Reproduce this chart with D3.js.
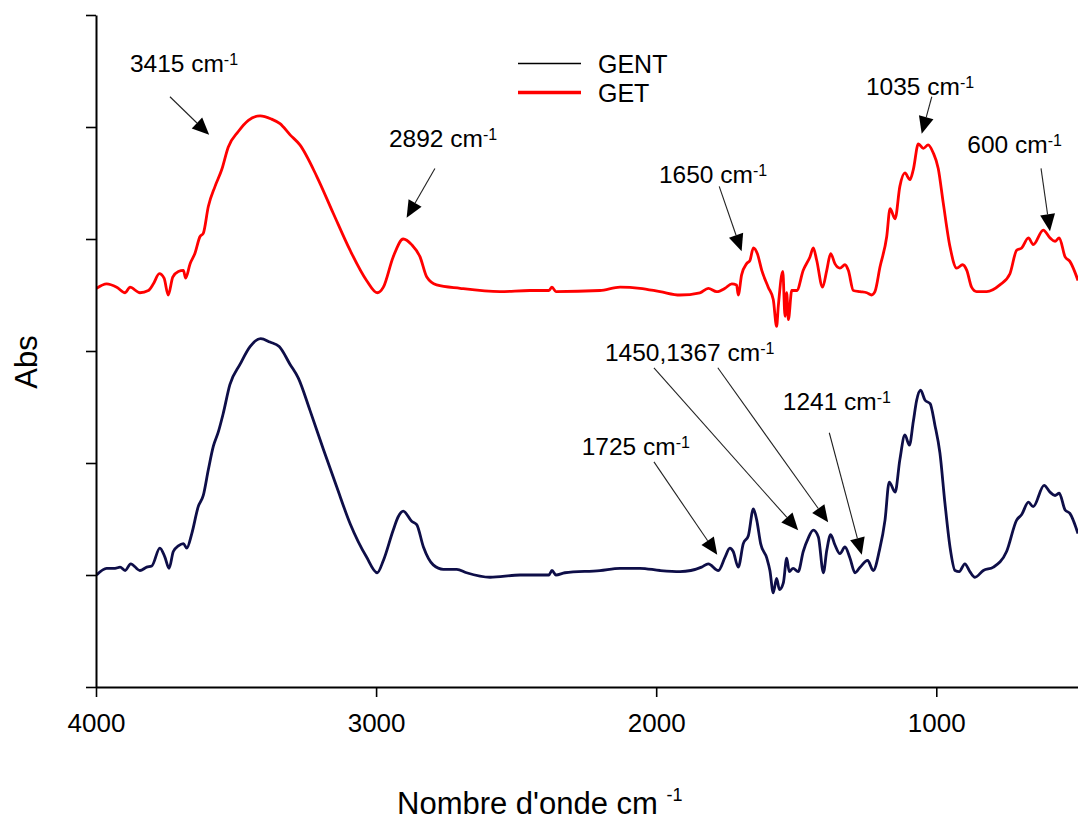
<!DOCTYPE html>
<html><head><meta charset="utf-8">
<script src="https://cdn.jsdelivr.net/npm/d3@7"></script>
<style>
body{margin:0;background:#fff}
svg{display:block}
text{font-family:"Liberation Sans",Arial,Helvetica,sans-serif;fill:#000}
</style>
</head><body>
<svg id="chart" width="1078" height="821"></svg>
<script>
// ---- data (wavenumber cm-1, absorbance in arbitrary units) ----
const getWavenumber = [3998,3962,3926,3896,3879,3843,3813,3795,3774,3757,3742,3726,3706,3688,3680,3664,3647,3629,3617,3599,3575,3551,3528,3492,3456,3414,3373,3343,3307,3272,3212,3153,3093,3034,2996,2974,2939,2903,2873,2843,2819,2784,2700,2558,2451,2383,2372,2358,2201,2129,2058,1986,1915,1844,1814,1784,1754,1730,1713,1707,1695,1677,1665,1653,1639,1623,1600,1582,1570,1564,1548,1540,1534,1528,1516,1498,1475,1451,1439,1427,1406,1391,1377,1362,1344,1326,1314,1296,1272,1248,1231,1219,1201,1177,1165,1147,1130,1112,1094,1082,1064,1046,1029,1011,993,975,951,927,906,891,874,856,820,773,737,713,695,671,654,618,594,576,561,540,523,494];
const getAbs = [3.56,3.60,3.57,3.52,3.57,3.52,3.54,3.60,3.69,3.65,3.50,3.66,3.71,3.72,3.65,3.78,3.87,4.02,4.05,4.29,4.47,4.62,4.82,4.96,5.06,5.10,5.07,5.03,4.93,4.84,4.56,4.23,3.90,3.63,3.52,3.57,3.84,4.00,3.95,3.84,3.66,3.59,3.56,3.53,3.54,3.54,3.57,3.53,3.54,3.57,3.56,3.53,3.50,3.52,3.56,3.53,3.56,3.60,3.59,3.50,3.68,3.78,3.81,3.92,3.87,3.72,3.57,3.46,3.22,3.40,3.71,3.31,3.52,3.28,3.54,3.54,3.72,3.84,3.92,3.81,3.57,3.72,3.87,3.78,3.74,3.77,3.72,3.54,3.53,3.52,3.50,3.53,3.75,4.02,4.27,4.18,4.47,4.59,4.53,4.62,4.85,4.81,4.84,4.77,4.63,4.32,3.93,3.74,3.77,3.72,3.57,3.53,3.53,3.59,3.69,3.90,3.92,4.01,3.95,4.08,4.01,3.98,4.01,3.84,3.80,3.63];

const gentWavenumber = [3998,3962,3932,3914,3896,3876,3843,3819,3801,3772,3754,3739,3724,3706,3688,3676,3658,3635,3617,3599,3581,3563,3546,3522,3486,3450,3412,3379,3346,3307,3278,3236,3188,3141,3093,3034,2996,2974,2939,2921,2903,2873,2855,2831,2796,2760,2712,2677,2593,2486,2383,2372,2358,2326,2201,2129,2058,1986,1915,1838,1814,1778,1754,1737,1725,1707,1689,1671,1653,1641,1627,1605,1594,1582,1570,1560,1546,1534,1525,1511,1493,1475,1457,1439,1421,1403,1391,1377,1362,1344,1326,1308,1290,1272,1245,1225,1203,1183,1168,1147,1130,1112,1096,1082,1070,1056,1040,1022,1005,987,969,951,933,918,898,880,862,832,796,749,713,695,671,654,615,594,576,561,540,523,494];
const gentAbs = [1.00,1.06,1.06,1.07,1.04,1.10,1.04,1.07,1.08,1.24,1.16,1.06,1.21,1.26,1.28,1.24,1.37,1.61,1.71,1.94,2.15,2.28,2.44,2.70,2.88,3.04,3.11,3.08,3.04,2.88,2.76,2.47,2.12,1.79,1.46,1.16,1.02,1.13,1.40,1.52,1.57,1.48,1.45,1.25,1.09,1.05,1.05,1.02,0.98,1.00,1.00,1.04,1.00,1.02,1.04,1.06,1.06,1.04,1.03,1.07,1.10,1.04,1.16,1.24,1.21,1.07,1.28,1.35,1.59,1.49,1.28,1.15,1.04,0.84,0.97,0.87,0.93,1.15,1.03,1.06,1.03,1.21,1.33,1.40,1.34,1.02,1.22,1.36,1.27,1.19,1.25,1.15,1.02,1.07,1.13,1.04,1.22,1.49,1.83,1.74,2.03,2.25,2.16,2.37,2.56,2.65,2.56,2.53,2.34,2.09,1.64,1.25,1.04,1.03,1.10,1.03,0.98,1.04,1.07,1.21,1.49,1.54,1.65,1.61,1.80,1.74,1.71,1.73,1.58,1.55,1.37];

const seriesNames = ["GENT", "GET"];
const xTickValues = [4000, 3000, 2000, 1000];
const yTickValues = [0, 1, 2, 3, 4, 5, 6];

// peak annotations: label text and label anchor (data coordinates)
const annLabel = ["3415", "2892", "1650", "1035", "600", "1450,1367", "1241", "1725"];
const annLabelW = [3879, 2954, 1990, 1251, 889, 2183, 1548, 2266];
const annLabelA = [5.49, 4.82, 4.50, 5.29, 4.77, 2.91, 2.47, 2.07];
// arrows: owning label index, start and tip (data coordinates)
const arrowLabel = [0, 1, 2, 3, 4, 5, 5, 6, 7];
const arrowFromW = [3736, 2790, 1775, 1016, 626, 2008, 1780, 1382, 2008];
const arrowFromA = [5.27, 4.63, 4.47, 5.27, 4.63, 2.85, 2.85, 2.27, 2.01];
const arrowToW   = [3596, 2891, 1695, 1052, 594, 1493, 1386, 1266, 1782];
const arrowToA   = [4.93, 4.19, 3.89, 4.94, 4.07, 1.40, 1.47, 1.18, 1.18];

// ---- chart ----
const svg = d3.select("#chart");
const x = d3.scaleLinear().domain([4000, 494]).range([96, 1078]);
const y = d3.scaleLinear().domain([0, 6]).range([687, 15]);

const gentData = gentWavenumber.map((w, i) => ({w, a: gentAbs[i]}));
const getData = getWavenumber.map((w, i) => ({w, a: getAbs[i]}));

const line = d3.line().x(d => x(d.w)).y(d => y(d.a)).curve(d3.curveMonotoneX);

svg.append("defs").append("clipPath").attr("id", "clip")
  .append("rect").attr("x", 96).attr("y", 0).attr("width", 982).attr("height", 700);

const plot = svg.append("g").attr("clip-path", "url(#clip)");
plot.append("path").datum(gentData).attr("d", line)
  .attr("fill", "none").attr("stroke", "#0e0e48").attr("stroke-width", 2.8)
  .attr("stroke-linejoin", "round");
plot.append("path").datum(getData).attr("d", line)
  .attr("fill", "none").attr("stroke", "#ff0000").attr("stroke-width", 2.8)
  .attr("stroke-linejoin", "round");

// axes
const yAxis = svg.append("g").attr("transform", "translate(96,0)")
  .call(d3.axisLeft(y).tickValues(yTickValues).tickFormat("").tickSize(10).tickSizeOuter(0));
yAxis.select(".domain").attr("stroke", "#000").attr("stroke-width", 2);
yAxis.selectAll(".tick line").attr("stroke", "#000").attr("stroke-width", 1.6);

const xAxis = svg.append("g").attr("transform", "translate(0,687)")
  .call(d3.axisBottom(x).tickValues(xTickValues).tickFormat(d3.format("d")).tickSize(10).tickSizeOuter(0));
xAxis.select(".domain").attr("stroke", "#000").attr("stroke-width", 2);
xAxis.selectAll(".tick line").attr("stroke", "#000").attr("stroke-width", 1.6);
xAxis.selectAll(".tick text").attr("y", 45).attr("dy", 0)
  .style("font-size", "26px").style("font-family", '"Liberation Sans",Arial,sans-serif').attr("fill", "#000");

// axis titles
svg.append("text").attr("transform", "translate(37,362) rotate(-90)")
  .attr("text-anchor", "middle").style("font-size", "31px").text("Abs");
const xt = svg.append("text").attr("x", 397).attr("y", 814).style("font-size", "31px");
xt.append("tspan").text("Nombre d'onde cm ");
xt.append("tspan").attr("dy", -13).style("font-size", "18px").text("-1");

// legend
const legendColors = ["#000000", "#ff0000"];
const legendWidths = [1.5, 3.5];
const lg = svg.append("g");
seriesNames.forEach((name, i) => {
  const yy = 63.5 + i * 29;
  lg.append("line").attr("x1", 518).attr("x2", 581).attr("y1", yy).attr("y2", yy)
    .attr("stroke", legendColors[i]).attr("stroke-width", legendWidths[i]);
  lg.append("text").attr("x", 598).attr("y", yy + 9.5).style("font-size", "25px").text(name);
});

// annotations
const ann = svg.append("g");
annLabel.forEach((lab, i) => {
  const t = ann.append("text").attr("x", x(annLabelW[i])).attr("y", y(annLabelA[i]))
    .style("font-size", "24.5px");
  t.append("tspan").text(lab + " cm");
  t.append("tspan").attr("dy", -7).style("font-size", "16px").text("-1");
});
arrowLabel.forEach((li, i) => {
  const x1 = x(arrowFromW[i]), y1 = y(arrowFromA[i]);
  const x2 = x(arrowToW[i]), y2 = y(arrowToA[i]);
  const dx = x2 - x1, dy = y2 - y1, L = Math.hypot(dx, dy);
  const ux = dx / L, uy = dy / L, nx = -uy, ny = ux;
  const hl = 17, hw = 7.5;
  const bx = x2 - ux * hl, by = y2 - uy * hl;
  ann.append("line").attr("x1", x1).attr("y1", y1).attr("x2", bx).attr("y2", by)
    .attr("stroke", "#222").attr("stroke-width", 1.1);
  ann.append("polygon")
    .attr("points", [[x2, y2], [bx + nx * hw, by + ny * hw], [bx - nx * hw, by - ny * hw]].map(p => p.join(",")).join(" "))
    .attr("fill", "#000");
});
</script>
</body></html>
